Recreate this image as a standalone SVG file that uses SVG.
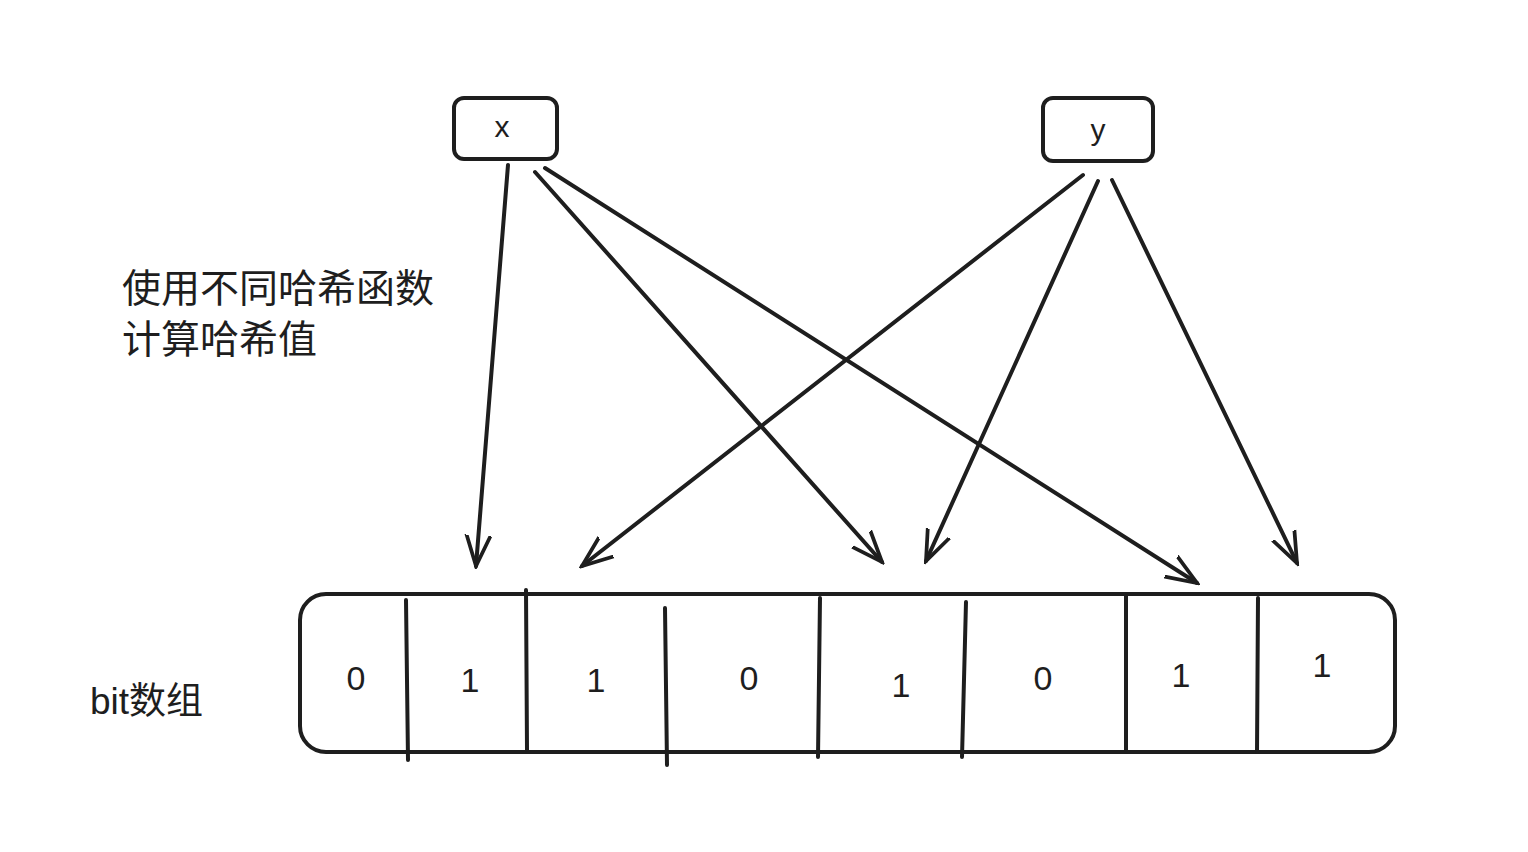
<svg xmlns="http://www.w3.org/2000/svg" width="1528" height="852" viewBox="0 0 1528 852">
<style>
.s{fill:none;stroke:#1e1e1e;stroke-width:4;stroke-linecap:round}
.t{font-family:"Liberation Sans","Noto Sans CJK SC",sans-serif;fill:#1e1e1e}
.d{font-size:34px;text-anchor:middle}
</style>
<defs>
<marker id="a" viewBox="0 0 20 20" refX="18" refY="10" markerWidth="34" markerHeight="34" markerUnits="userSpaceOnUse" orient="auto">
<path d="M0,3 L18,10 L0,17" fill="none" stroke="#1e1e1e" stroke-width="2.2" stroke-linecap="round"/>
</marker>
</defs>
<rect width="1528" height="852" fill="#fff"/>
<g id="node-x"><rect class="s" x="454" y="98" width="103" height="61" rx="10"/><text class="t" x="502" y="137" font-size="30" text-anchor="middle">x</text></g>
<g id="node-y"><rect class="s" x="1043" y="98" width="110" height="63" rx="10"/><text class="t" x="1098" y="140" font-size="30" text-anchor="middle">y</text></g>
<g id="label-hash"><text class="t" x="122" y="302" font-size="39">使用不同哈希函数</text><text class="t" x="122" y="353" font-size="39">计算哈希值</text></g>
<g id="label-bit"><text class="t" x="90" y="714" font-size="37">bit数组</text></g>
<g id="bit-array">
<rect class="s" x="300" y="594" width="1095" height="158" rx="26"/>
<path class="s" d="M406,600 L408,760 M526,590 L527,750 M665,608 L667,765 M820,598 L818,757 M966,602 L962,757 M1126,596 L1126,752 M1258,598 L1257,752"/>
<text class="t d" x="356" y="690">0</text>
<text class="t d" x="470" y="692">1</text>
<text class="t d" x="596" y="692">1</text>
<text class="t d" x="749" y="690">0</text>
<text class="t d" x="901" y="697">1</text>
<text class="t d" x="1043" y="690">0</text>
<text class="t d" x="1181" y="687">1</text>
<text class="t d" x="1322" y="677">1</text>
</g>
<g id="connectors" class="s" marker-end="url(#a)">
<line x1="508" y1="165" x2="476" y2="566"/>
<line x1="535" y1="172" x2="882" y2="562"/>
<line x1="545" y1="168" x2="1197" y2="583"/>
<line x1="1083" y1="175" x2="582" y2="566"/>
<line x1="1098" y1="181" x2="926" y2="561"/>
<line x1="1112" y1="180" x2="1297" y2="563"/>
</g>
</svg>
